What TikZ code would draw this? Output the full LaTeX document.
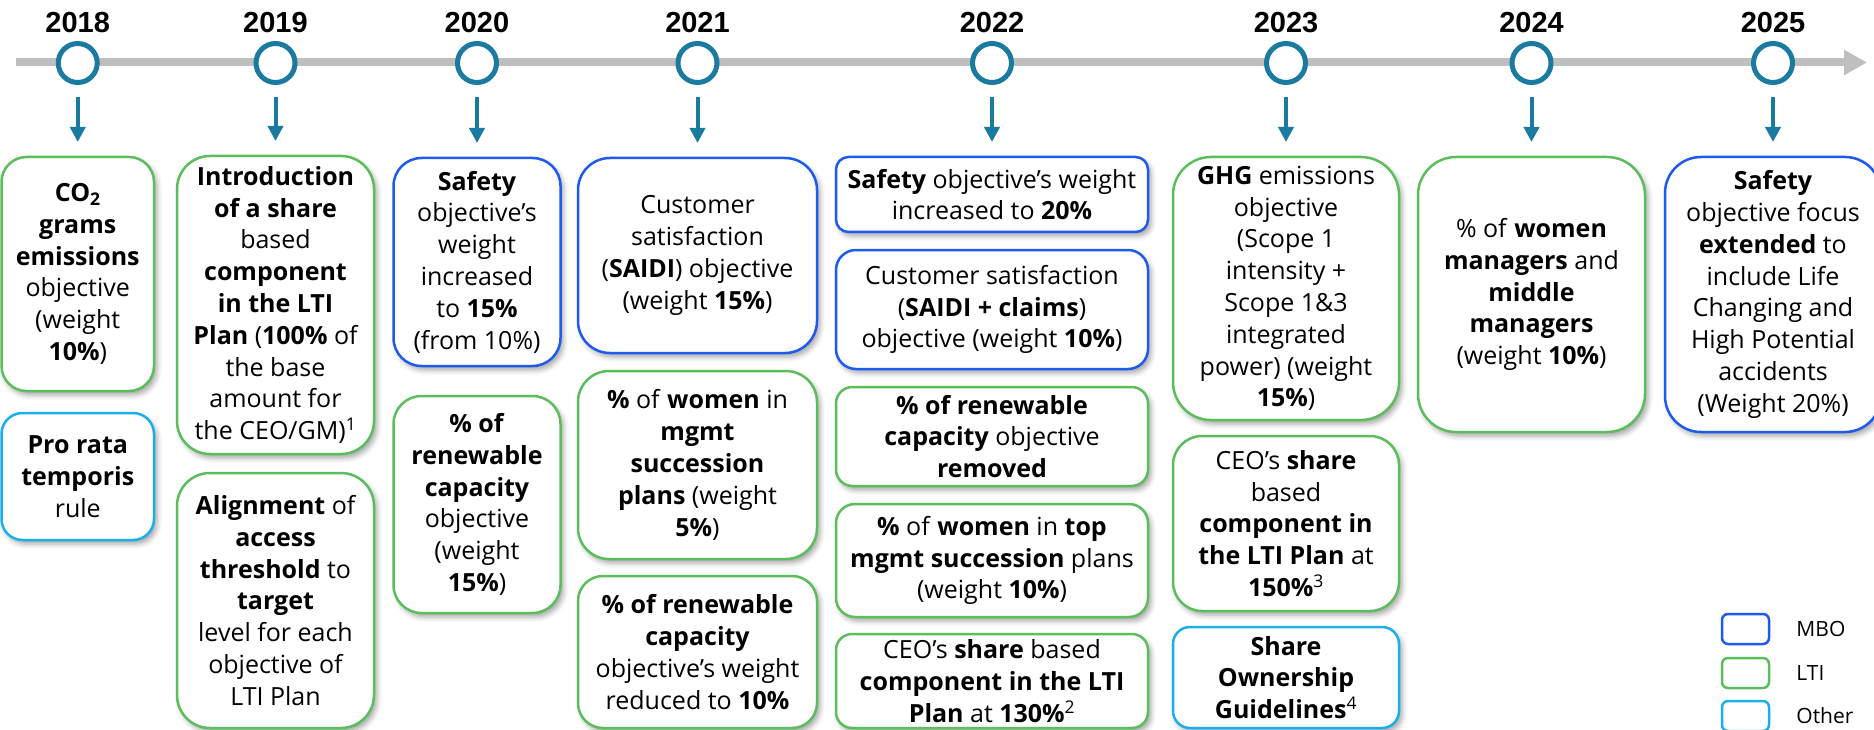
\documentclass[tikz,border=0pt]{standalone}
\usepackage{fontspec}
\setmainfont{Open Sans}
\newfontfamily\yearfont{Liberation Sans}
\usepackage{xcolor}
\usepackage{tikz}
\usetikzlibrary{arrows.meta}
\usetikzlibrary{positioning, shadows.blur}

\definecolor{mboblue}{HTML}{1E5AEE}
\definecolor{ltigreen}{HTML}{5CBD5C}
\definecolor{othercyan}{HTML}{1AAEEB}
\definecolor{tlteal}{HTML}{1A7AA0}
\definecolor{tlgray}{HTML}{BFBFBF}

\tikzstyle{card}=[rectangle, fill=white, line width=2.5pt, outer sep=0pt, inner sep=2pt, align=center, font=\fontsize{25}{31.8}\selectfont, blur shadow={shadow xshift=3pt, shadow yshift=-4pt, shadow blur radius=5pt, shadow opacity=35}]
\tikzstyle{mbo}=[card, draw=mboblue]
\tikzstyle{lti}=[card, draw=ltigreen]
\tikzstyle{otherbox}=[card, draw=othercyan]
\tikzstyle{milestone}=[circle, draw=tlteal, fill=white, line width=5pt, minimum size=39pt, inner sep=0pt]
\tikzstyle{yearlabel}=[inner sep=0pt, font=\yearfont\bfseries\fontsize{29}{32}\selectfont]
\tikzstyle{legbox}=[rectangle, rounded corners=6pt, line width=2.5pt, minimum width=47pt, minimum height=30pt]
\tikzstyle{legtext}=[inner sep=0pt, font=\fontsize{21}{24}\selectfont]

\begin{document}
\begin{tikzpicture}[x=1pt, y=-1pt]

\useasboundingbox (0,0) rectangle (1874,730);
\tikzset{>={Triangle[length=15pt, width=15pt]}}
\tikzset{drop/.style={->, tlteal, line width=4pt}}

% Timeline axis
\coordinate (axisstart) at (16,62.5);
\coordinate (axisend) at (1867,62.5);
\draw[tlgray, line width=8pt, -{Triangle[length=23pt, width=24pt]}] (axisstart) -- (axisend);

% Milestones
\node[milestone] (c18) at (77.75,63) {};
\node[milestone] (c19) at (275.5,63) {};
\node[milestone] (c20) at (477,63) {};
\node[milestone] (c21) at (697.5,63) {};
\node[milestone] (c22) at (992,63) {};
\node[milestone] (c23) at (1286,63) {};
\node[milestone] (c24) at (1531.5,63) {};
\node[milestone] (c25) at (1773,63) {};

\node[yearlabel, above=8pt of c18] {2018};
\node[yearlabel, above=8pt of c19] {2019};
\node[yearlabel, above=8pt of c20] {2020};
\node[yearlabel, above=8pt of c21] {2021};
\node[yearlabel, above=8pt of c22] {2022};
\node[yearlabel, above=8pt of c23] {2023};
\node[yearlabel, above=8pt of c24] {2024};
\node[yearlabel, above=8pt of c25] {2025};

% 2018
\node[lti, minimum width=152.5pt, minimum height=234pt, rounded corners=25pt, anchor=north] (b18a) at (77.75,157)
  {\textbf{CO\textsubscript{2}}\\ \textbf{grams}\\ \textbf{emissions}\\ objective\\ (weight\\ \textbf{10\%})};
\node[otherbox, minimum width=152.5pt, minimum height=127pt, rounded corners=21pt, below=22pt of b18a] (b18b)
  {\textbf{Pro rata}\\ \textbf{temporis}\\ rule};

% 2019
\node[lti, minimum width=197pt, minimum height=298pt, rounded corners=33pt, anchor=north] (b19a) at (275.5,156)
  {\textbf{Introduction}\\ \textbf{of a share}\\ based\\ \textbf{component}\\ \textbf{in the LTI}\\ \textbf{Plan} (\textbf{100\%} of\\ the base\\ amount for\\ the CEO/GM)\textsuperscript{1}};
\node[lti, minimum width=197pt, minimum height=255pt, rounded corners=33pt, below=19pt of b19a] (b19b)
  {\textbf{Alignment} of\\ \textbf{access}\\ \textbf{threshold} to\\ \textbf{target}\\ level for each\\ objective of\\ LTI Plan};

% 2020
\node[mbo, minimum width=167pt, minimum height=208pt, rounded corners=28pt, anchor=north] (b20a) at (477,158)
  {\textbf{Safety}\\ objective’s\\ weight\\ increased\\ to \textbf{15\%}\\ (from 10\%)};
\node[lti, minimum width=167pt, minimum height=217pt, rounded corners=28pt, below=30pt of b20a] (b20b)
  {\textbf{\% of}\\ \textbf{renewable}\\ \textbf{capacity}\\ objective\\ (weight\\ \textbf{15\%})};

% 2021
\node[mbo, minimum width=239pt, minimum height=195pt, rounded corners=32pt, anchor=north] (b21a) at (697.5,158)
  {Customer\\ satisfaction\\ (\textbf{SAIDI}) objective\\ (weight \textbf{15\%})};
\node[lti, minimum width=239pt, minimum height=188pt, rounded corners=31pt, below=18pt of b21a] (b21b)
  {\textbf{\%} of \textbf{women} in\\ \textbf{mgmt}\\ \textbf{succession}\\ \textbf{plans} (weight\\ \textbf{5\%})};
\node[lti, minimum width=239pt, minimum height=152pt, rounded corners=25pt, below=17pt of b21b] (b21c)
  {\textbf{\% of renewable}\\ \textbf{capacity}\\ objective’s weight\\ reduced to \textbf{10\%}};

% 2022
\node[mbo, minimum width=312pt, minimum height=75pt, rounded corners=12.5pt, anchor=north] (b22a) at (992,157)
  {\textbf{Safety} objective’s weight\\ increased to \textbf{20\%}};
\node[mbo, minimum width=312pt, minimum height=119pt, rounded corners=20pt, below=18pt of b22a] (b22b)
  {Customer satisfaction\\ (\textbf{SAIDI + claims})\\ objective (weight \textbf{10\%})};
\node[lti, minimum width=312pt, minimum height=99pt, rounded corners=16.5pt, below=18pt of b22b] (b22c)
  {\textbf{\% of renewable}\\ \textbf{capacity} objective\\ \textbf{removed}};
\node[lti, minimum width=312pt, minimum height=113pt, rounded corners=19pt, below=18pt of b22c] (b22d)
  {\textbf{\%} of \textbf{women} in \textbf{top}\\ \textbf{mgmt succession} plans\\ (weight \textbf{10\%})};
\node[lti, minimum width=312pt, minimum height=94pt, rounded corners=16pt, below=17pt of b22d] (b22e)
  {CEO’s \textbf{share} based\\ \textbf{component in the LTI}\\ \textbf{Plan} at \textbf{130\%}\textsuperscript{2}};

% 2023
\node[lti, minimum width=226pt, minimum height=263pt, rounded corners=38pt, anchor=north] (b23a) at (1286,157)
  {\textbf{GHG} emissions\\ objective\\ (Scope 1\\ intensity +\\ Scope 1\&3\\ integrated\\ power) (weight\\ \textbf{15\%})};
\node[lti, minimum width=226pt, minimum height=175pt, rounded corners=29pt, below=16pt of b23a] (b23b)
  {CEO’s \textbf{share}\\ based\\ \textbf{component in}\\ \textbf{the LTI Plan} at\\ \textbf{150\%}\textsuperscript{3}};
\node[otherbox, minimum width=226pt, minimum height=101pt, rounded corners=17pt, below=16pt of b23b] (b23c)
  {\textbf{Share}\\ \textbf{Ownership}\\ \textbf{Guidelines}\textsuperscript{4}};

% 2024
\node[lti, minimum width=227pt, minimum height=275pt, rounded corners=38pt, anchor=north] (b24a) at (1531.5,157)
  {\% of \textbf{women}\\ \textbf{managers} and\\ \textbf{middle}\\ \textbf{managers}\\ (weight \textbf{10\%})};

% 2025
\node[mbo, minimum width=216pt, minimum height=275pt, rounded corners=36pt, anchor=north] (b25a) at (1773,157)
  {\textbf{Safety}\\ objective focus\\ \textbf{extended} to\\ include Life\\ Changing and\\ High Potential\\ accidents\\ (Weight 20\%)};

% Arrows from milestones to cards
\draw[drop] ([yshift=-12pt]c18.south) -- ([yshift=15pt]b18a.north);
\draw[drop] ([yshift=-12pt]c19.south) -- ([yshift=15pt]b19a.north);
\draw[drop] ([yshift=-12pt]c20.south) -- ([yshift=15pt]b20a.north);
\draw[drop] ([yshift=-12pt]c21.south) -- ([yshift=15pt]b21a.north);
\draw[drop] ([yshift=-12pt]c22.south) -- ([yshift=15pt]b22a.north);
\draw[drop] ([yshift=-12pt]c23.south) -- ([yshift=15pt]b23a.north);
\draw[drop] ([yshift=-12pt]c24.south) -- ([yshift=15pt]b24a.north);
\draw[drop] ([yshift=-12pt]c25.south) -- ([yshift=15pt]b25a.north);

% Legend
\node[legbox, draw=mboblue] (lgmbo) at (1745.5,629) {};
\node[legbox, draw=ltigreen] (lglti) at (1745.5,673) {};
\node[legbox, draw=othercyan] (lgother) at (1745.5,716) {};
\node[legtext, right=26pt of lgmbo] {MBO};
\node[legtext, right=26pt of lglti] {LTI};
\node[legtext, right=26pt of lgother] {Other};

\end{tikzpicture}
\end{document}
